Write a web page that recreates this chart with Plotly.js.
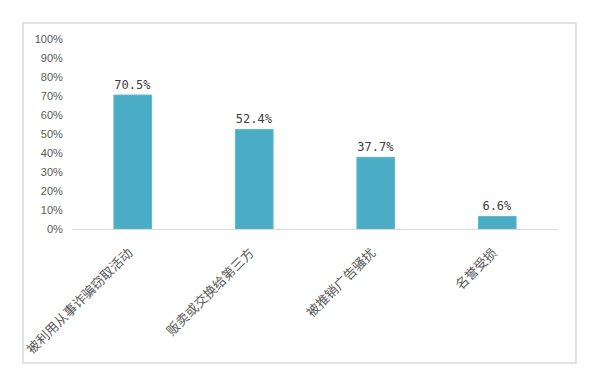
<!DOCTYPE html>
<html><head><meta charset="utf-8">
<script src="https://cdn.plot.ly/plotly-3.0.1.min.js"></script>
<style>html,body{margin:0;padding:0;background:#fff}#c{width:600px;height:378px}</style>
</head><body><div id="c"></div>
<script>
const categories = ["被利用从事诈骗窃取活动", "贩卖或交换给第三方", "被推销广告骚扰", "名誉受损"];
const values = [0.705, 0.524, 0.377, 0.066];
const labels = ["70.5%", "52.4%", "37.7%", "6.6%"];
const yTicks = [0,0.1,0.2,0.3,0.4,0.5,0.6,0.7,0.8,0.9,1.0];
const yTickText = ["0%","10%","20%","30%","40%","50%","60%","70%","80%","90%","100%"];

const trace = {
  type: 'bar', x: categories, y: values, text: labels,
  textposition: 'outside', cliponaxis: false,
  textfont: {family: '"DejaVu Sans Mono", monospace', size: 12, color: '#404040'},
  marker: {color: '#4BACC6', line: {color: '#5BB8D2', width: 1}},
  hoverinfo: 'none'
};
const layout = {
  width: 600, height: 378,
  margin: {l: 72, r: 42, t: 39, b: 149},
  paper_bgcolor: '#fff', plot_bgcolor: '#fff',
  bargap: 0.69, showlegend: false,
  xaxis: {
    tickangle: -45, showgrid: false, zeroline: false,
    showline: true, linecolor: '#d9d9d9', linewidth: 1,
    ticks: '', ticklabelstandoff: 10, ticklabelshift: -4,
    tickfont: {family: '"Noto Sans CJK SC", sans-serif', size: 13, color: '#595959'}
  },
  yaxis: {
    range: [0, 1.0], tickvals: yTicks, ticktext: yTickText,
    showgrid: false, zeroline: false, showline: false,
    ticks: 'outside', ticklen: 6, tickcolor: 'rgba(0,0,0,0)',
    tickfont: {family: '"Liberation Sans", sans-serif', size: 11, color: '#595959'}
  },
  shapes: [{type: 'rect', xref: 'paper', yref: 'paper',
    x0: -0.1008, x1: 1.037, y0: -0.705, y1: 1.084,
    line: {color: '#d9d9d9', width: 1.5}, fillcolor: 'rgba(0,0,0,0)', layer: 'below'}]
};
Plotly.newPlot('c', [trace], layout, {staticPlot: true, displayModeBar: false});
</script></body></html>
